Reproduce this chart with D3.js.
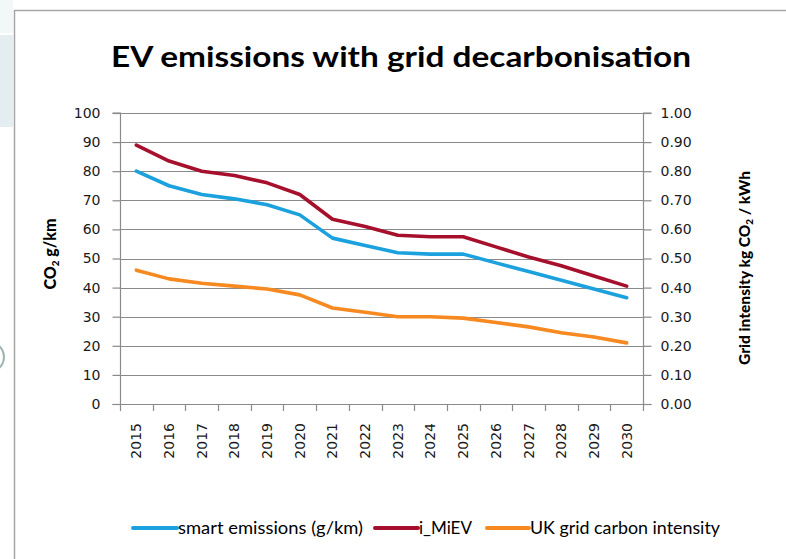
<!DOCTYPE html>
<html>
<head>
<meta charset="utf-8">
<script src="https://cdn.jsdelivr.net/npm/d3@7"></script>
<style>
  html, body { margin: 0; padding: 0; background: #ffffff; }
  svg { display: block; }
</style>
</head>
<body>
<svg id="chart" width="786" height="559"></svg>
<script>
// ---- data ----
const years = ["2015","2016","2017","2018","2019","2020","2021","2022","2023","2024","2025","2026","2027","2028","2029","2030"];
const smartEmissions = [80, 75, 72, 70.5, 68.5, 65, 57, 54.5, 52, 51.5, 51.5, 48.5, 45.5, 42.5, 39.5, 36.5];
const iMiEV = [89, 83.5, 80, 78.5, 76, 72, 63.5, 61, 58, 57.5, 57.5, 54, 50.5, 47.5, 44, 40.5];
const ukGrid = [0.46, 0.43, 0.415, 0.405, 0.395, 0.375, 0.33, 0.315, 0.30, 0.30, 0.295, 0.28, 0.265, 0.245, 0.23, 0.21];
const leftTicks = [0, 10, 20, 30, 40, 50, 60, 70, 80, 90, 100];
const rightTicks = [0, 0.1, 0.2, 0.3, 0.4, 0.5, 0.6, 0.7, 0.8, 0.9, 1.0];
const seriesNames = ["smart emissions (g/km)", "i_MiEV", "UK grid carbon intensity"];

// ---- layout ----
const svg = d3.select("#chart");
const plot = { left: 120, right: 643, top: 113, bottom: 404 };
const colors = ["#1ba1dd", "#a6102c", "#f6891f"];
const gridColor = "#8a8a8a";
const tickFont = "'DejaVu Sans', Verdana, sans-serif";
const textFont = "Lato, 'Open Sans', sans-serif";

// page decoration (left strip, frame)
svg.append("rect").attr("x", 0).attr("y", 0).attr("width", 13).attr("height", 33).attr("fill", "#f2f7f8");
svg.append("rect").attr("x", 0).attr("y", 35).attr("width", 13).attr("height", 92).attr("fill", "#e4eef0");
svg.append("circle").attr("cx", -11).attr("cy", 357).attr("r", 15).attr("fill", "#ffffff").attr("stroke", "#9fb3b3").attr("stroke-width", 2);
svg.append("line").attr("x1", 14.5).attr("x2", 14.5).attr("y1", 10).attr("y2", 559).attr("stroke", "#a6a6a6").attr("stroke-width", 1.5);
svg.append("line").attr("x1", 14).attr("x2", 786).attr("y1", 10.5).attr("y2", 10.5).attr("stroke", "#a6a6a6").attr("stroke-width", 1.5);

// scales
const x = d3.scaleBand().domain(years).range([plot.left, plot.right]).padding(0);
const y = d3.scaleLinear().domain([0, 100]).range([plot.bottom, plot.top]);
const y2 = d3.scaleLinear().domain([0, 1]).range([plot.bottom, plot.top]);
const cx = d => x(d) + x.bandwidth() / 2;

// gridlines
svg.append("g").selectAll("line").data(leftTicks.filter(d => d > 0)).join("line")
  .attr("x1", plot.left).attr("x2", plot.right)
  .attr("y1", d => Math.round(y(d)) + 0.5).attr("y2", d => Math.round(y(d)) + 0.5)
  .attr("stroke", gridColor).attr("stroke-width", 1.2);

// left axis
const gl = svg.append("g").attr("transform", `translate(${plot.left + 0.5},0)`)
  .call(d3.axisLeft(y).tickValues(leftTicks).tickSize(8).tickPadding(12).tickFormat(d3.format("d")));
gl.select(".domain").attr("stroke", gridColor).attr("stroke-width", 1.2).attr("d", `M-8,${plot.bottom + 0.5}H0V${plot.top}H-8`);
gl.selectAll(".tick line").attr("stroke", gridColor).attr("stroke-width", 1.2);
gl.selectAll(".tick text").attr("font-family", tickFont).attr("font-size", 14).attr("fill", "#1a1a1a");

// right axis
const gr = svg.append("g").attr("transform", `translate(${plot.right + 0.5},0)`)
  .call(d3.axisRight(y2).tickValues(rightTicks).tickSize(8).tickPadding(9).tickFormat(d3.format(".2f")));
gr.select(".domain").attr("stroke", gridColor).attr("stroke-width", 1.2).attr("d", `M8,${plot.bottom + 0.5}H0V${plot.top}H8`);
gr.selectAll(".tick line").attr("stroke", gridColor).attr("stroke-width", 1.2);
gr.selectAll(".tick text").attr("font-family", tickFont).attr("font-size", 14).attr("fill", "#1a1a1a");

// bottom axis (ticks at category boundaries)
svg.append("line").attr("x1", plot.left).attr("x2", plot.right + 8)
  .attr("y1", plot.bottom + 0.5).attr("y2", plot.bottom + 0.5)
  .attr("stroke", gridColor).attr("stroke-width", 1.2);
const boundaries = years.map(d => x(d)).concat([x.range()[1]]);
svg.append("g").selectAll("line").data(boundaries).join("line")
  .attr("x1", d => Math.round(d) + 0.5).attr("x2", d => Math.round(d) + 0.5)
  .attr("y1", plot.bottom).attr("y2", plot.bottom + 7)
  .attr("stroke", gridColor).attr("stroke-width", 1.2);
const gb = svg.append("g").attr("transform", `translate(0,${plot.bottom})`)
  .call(d3.axisBottom(x).tickSize(0));
gb.select(".domain").remove();
gb.selectAll(".tick text")
  .attr("font-family", tickFont).attr("font-size", 14).attr("fill", "#1a1a1a")
  .attr("text-anchor", "end").attr("dy", "0.35em")
  .attr("transform", "translate(0,19) rotate(-90)")
  .attr("x", 0).attr("y", 0);

// lines
const lineL = d3.line().x((d, i) => cx(years[i])).y(d => y(d));
const lineR = d3.line().x((d, i) => cx(years[i])).y(d => y2(d));
svg.append("path").datum(smartEmissions).attr("d", lineL).attr("fill", "none")
  .attr("stroke", colors[0]).attr("stroke-width", 3.6).attr("stroke-linejoin", "round").attr("stroke-linecap", "round");
svg.append("path").datum(iMiEV).attr("d", lineL).attr("fill", "none")
  .attr("stroke", colors[1]).attr("stroke-width", 3.6).attr("stroke-linejoin", "round").attr("stroke-linecap", "round");
svg.append("path").datum(ukGrid).attr("d", lineR).attr("fill", "none")
  .attr("stroke", colors[2]).attr("stroke-width", 3.6).attr("stroke-linejoin", "round").attr("stroke-linecap", "round");

// title
svg.append("text").attr("x", 401).attr("y", 67).attr("text-anchor", "middle")
  .attr("font-family", textFont).attr("font-weight", "bold").attr("font-size", 28).attr("fill", "#000")
  .attr("textLength", 580).attr("lengthAdjust", "spacingAndGlyphs")
  .text("EV emissions with grid decarbonisation");

// left axis title
const lt = svg.append("text").attr("transform", "translate(56,254) rotate(-90)")
  .attr("text-anchor", "middle").attr("font-family", textFont).attr("font-weight", "900")
  .attr("font-size", 16).attr("fill", "#000");
lt.append("tspan").text("CO");
lt.append("tspan").attr("font-size", 10).attr("dy", 3).text("2");
lt.append("tspan").attr("dy", -3).text(" g/km");

// right axis title
const rt = svg.append("text").attr("transform", "translate(750,268) rotate(-90)")
  .attr("text-anchor", "middle").attr("font-family", textFont).attr("font-weight", "900")
  .attr("font-size", 15.5).attr("fill", "#000");
rt.append("tspan").text("Grid intensity kg CO");
rt.append("tspan").attr("font-size", 10).attr("dy", 3).text("2");
rt.append("tspan").attr("dy", -3).text(" / kWh");

// legend
const legendItems = [
  { name: seriesNames[0], color: colors[0], x0: 133, tx: 178, tw: 185 },
  { name: seriesNames[1], color: colors[1], x0: 375, tx: 419, tw: 53 },
  { name: seriesNames[2], color: colors[2], x0: 487, tx: 530, tw: 190 }
];
const lg = svg.append("g");
legendItems.forEach(it => {
  lg.append("line").attr("x1", it.x0).attr("x2", it.tx - 1).attr("y1", 528).attr("y2", 528)
    .attr("stroke", it.color).attr("stroke-width", 4).attr("stroke-linecap", "round");
  lg.append("text").attr("x", it.tx).attr("y", 533.5)
    .attr("font-family", textFont).attr("font-size", 16.5).attr("fill", "#000")
    .attr("textLength", it.tw).attr("lengthAdjust", "spacingAndGlyphs")
    .text(it.name);
});
</script>
</body>
</html>
